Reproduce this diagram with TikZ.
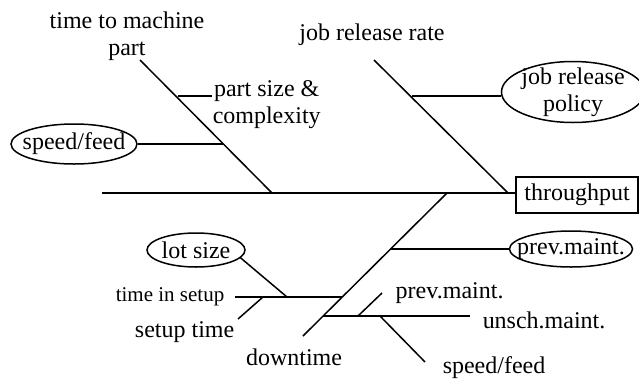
\documentclass[tikz,border=0pt]{standalone}
\usepackage{fontspec}
\setmainfont{Liberation Serif}
\usetikzlibrary{shapes.geometric, calc, positioning}

\begin{document}
\begin{tikzpicture}[x=0.5pt,y=-0.5pt,line width=0.75pt,every node/.style={inner sep=0pt}]

\tikzstyle{lbl}=[font=\fontsize{12}{13.5}\selectfont, align=center];
\tikzstyle{small}=[font=\fontsize{10.5}{12}\selectfont];
\tikzstyle{oval}=[ellipse,draw,lbl,inner xsep=-6pt,inner ysep=-2pt];
\tikzstyle{effect}=[rectangle,draw,lbl,minimum width=61pt,minimum height=18pt];

\useasboundingbox (0,0) rectangle (639,381);

\coordinate (TAIL) at (102,193);
\node(THRU) [effect] at (577,195) {throughput};
\draw (TAIL) -- (TAIL -| THRU.west);

\node(TTM) [lbl, anchor=north] at (127,11) {time to machine\\part};
\coordinate (TTMTOP) at (140,60);
\coordinate (TTMEND) at (272,193);
\draw (TTMTOP) -- (TTMEND);
\node(PSC) [lbl, anchor=north west] at (212,80) {part size \&\\complexity};
\coordinate (PSCJ) at (178,96);
\draw (PSCJ) -- (PSCJ -| PSC.west);
\node(SFA) [oval, minimum width=63pt, minimum height=20pt] at (74,144) {speed/feed};
\coordinate (SFAJ) at (223,144);
\draw (SFA.east) -- (SFAJ);

\node(JRR) [lbl, anchor=base] at (372,40) {job release rate};
\coordinate (JRRTOP) at (374,60);
\coordinate (JRREND) at (508,193);
\draw (JRRTOP) -- (JRREND);
\node(JRP) [oval, minimum width=71.5pt, minimum height=30.5pt] at (573,92) {job release\\policy};
\coordinate (JRPJ) at (412,96);
\draw (JRPJ) -- (JRPJ -| JRP.west);

\coordinate (DTTOP) at (447,193);
\coordinate (DTEND) at (303,336);
\draw (DTTOP) -- (DTEND);
\node(DT) [lbl, anchor=base] at (294,365) {downtime};
\node(PMA) [oval, minimum width=61.5pt, minimum height=18pt] at (571,249) {prev.maint.};
\coordinate (PMAJ) at (390,249);
\draw (PMAJ) -- (PMA.west);

\coordinate (SUL) at (235,297);
\coordinate (SUR) at (342,297);
\draw (SUL) -- (SUR);
\node(TIS) [small, anchor=base east] at (225,301) {time in setup};
\node(LOT) [oval, minimum width=49pt, minimum height=17pt] at (196,250) {lot size};
\coordinate (LOTJ) at (287,297);
\draw (LOT.-10) -- (LOTJ);
\node(ST) [lbl, anchor=base east] at (235,337) {setup time};
\coordinate (STJ) at (263,297);
\coordinate (STEND) at (238,319);
\draw (STEND) -- (STJ);

\coordinate (MTL) at (323,316);
\coordinate (MTR) at (470,316);
\draw (MTL) -- (MTR);
\node(UM) [lbl, anchor=base west] at (482,328) {unsch.maint.};
\node(PMB) [lbl, anchor=base west] at (395,298) {prev.maint.};
\coordinate (PMBJ) at (358,316);
\coordinate (PMBEND) at (382,293);
\draw (PMBJ) -- (PMBEND);
\node(SFB) [lbl, anchor=base west] at (442,373) {speed/feed};
\coordinate (SFBJ) at (380,316);
\coordinate (SFBEND) at (425,362);
\draw (SFBJ) -- (SFBEND);

\end{tikzpicture}
\end{document}
